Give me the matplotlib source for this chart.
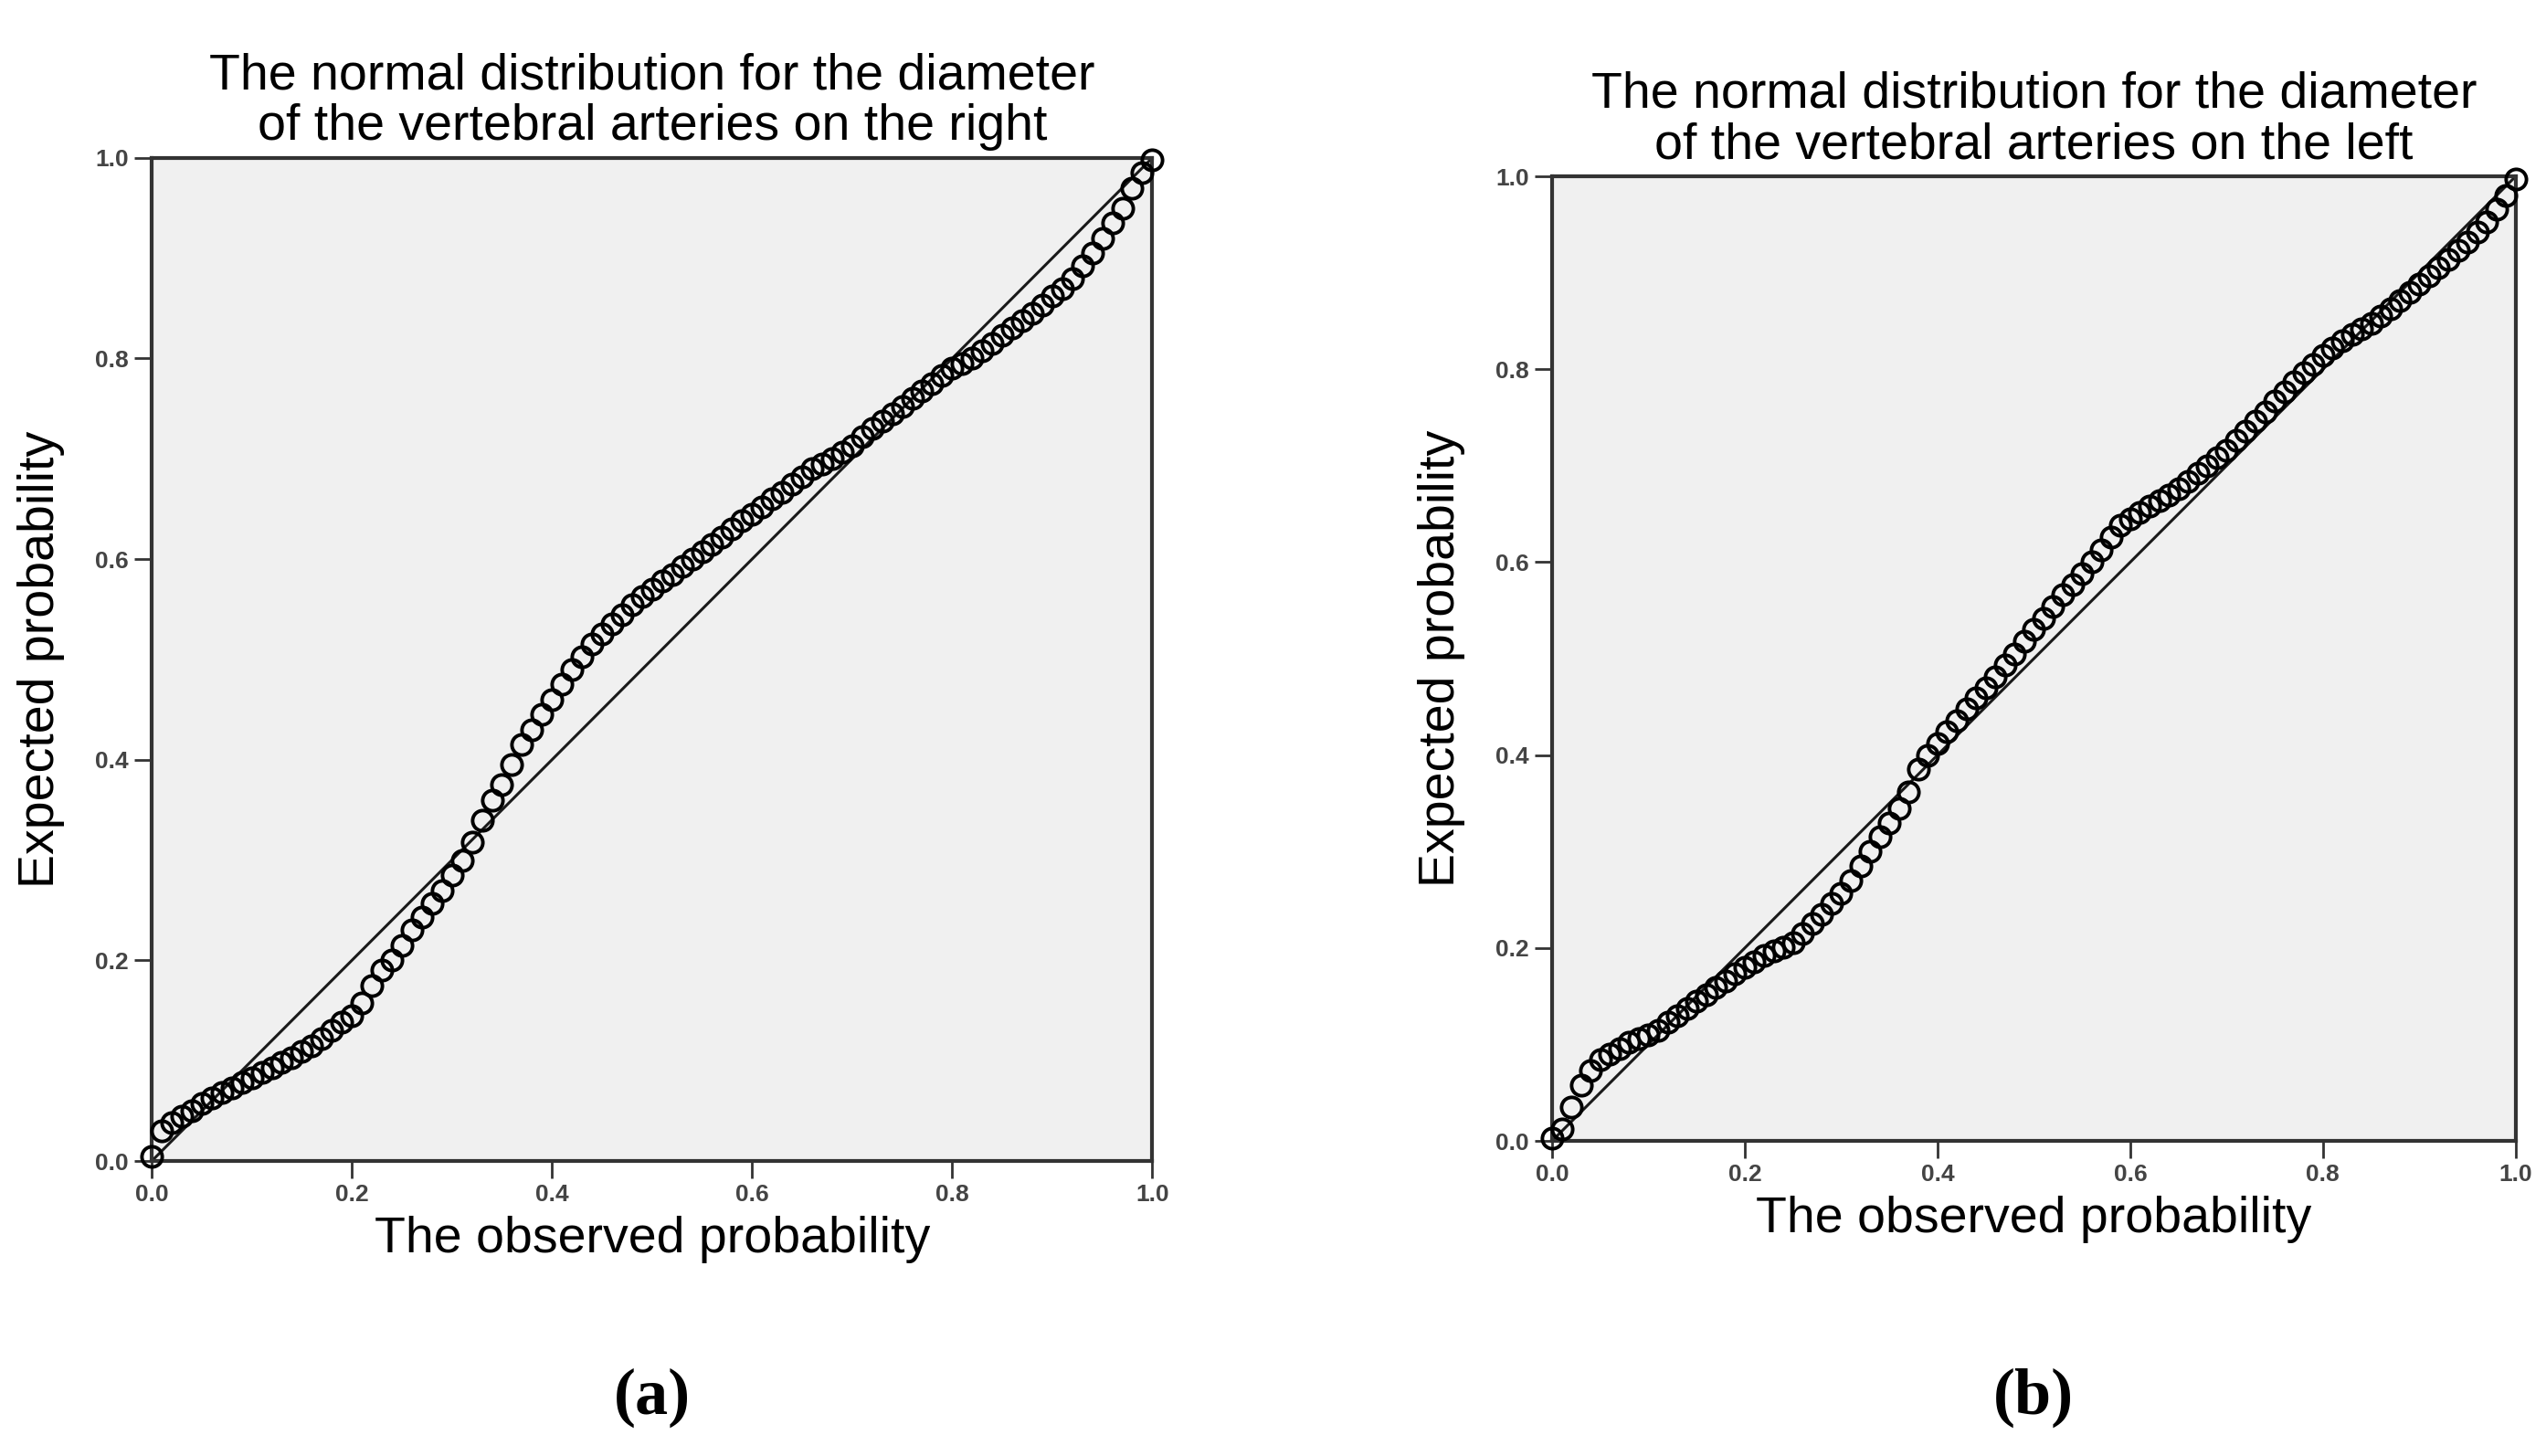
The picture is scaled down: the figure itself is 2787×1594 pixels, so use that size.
import matplotlib
matplotlib.use("Agg")
import matplotlib.pyplot as plt
import numpy as np

# P-P plot points: observed (x) vs expected (y) probability
obs_right = [0.00, 0.01, 0.02, 0.03, 0.04, 0.05, 0.06, 0.07, 0.08, 0.09, 0.10, 0.11, 0.12, 0.13,
             0.14, 0.15, 0.16, 0.17, 0.18, 0.19, 0.20, 0.21, 0.22, 0.23, 0.24, 0.25, 0.26, 0.27,
             0.28, 0.29, 0.30, 0.31, 0.32, 0.33, 0.34, 0.35, 0.36, 0.37, 0.38, 0.39, 0.40, 0.41,
             0.42, 0.43, 0.44, 0.45, 0.46, 0.47, 0.48, 0.49, 0.50, 0.51, 0.52, 0.53, 0.54, 0.55,
             0.56, 0.57, 0.58, 0.59, 0.60, 0.61, 0.62, 0.63, 0.64, 0.65, 0.66, 0.67, 0.68, 0.69,
             0.70, 0.71, 0.72, 0.73, 0.74, 0.75, 0.76, 0.77, 0.78, 0.79, 0.80, 0.81, 0.82, 0.83,
             0.84, 0.85, 0.86, 0.87, 0.88, 0.89, 0.90, 0.91, 0.92, 0.93, 0.94, 0.95, 0.96, 0.97,
             0.98, 0.99, 1.00]
exp_right = [0.005, 0.030, 0.038, 0.045, 0.050, 0.057, 0.063, 0.068, 0.073, 0.078, 0.083, 0.088,
             0.093, 0.098, 0.103, 0.109, 0.115, 0.122, 0.130, 0.138, 0.145, 0.158, 0.175, 0.190,
             0.200, 0.215, 0.230, 0.243, 0.257, 0.270, 0.285, 0.300, 0.318, 0.340, 0.360, 0.375,
             0.395, 0.415, 0.430, 0.445, 0.460, 0.475, 0.490, 0.503, 0.515, 0.525, 0.535, 0.545,
             0.555, 0.563, 0.570, 0.578, 0.585, 0.593, 0.600, 0.607, 0.615, 0.622, 0.630, 0.638,
             0.645, 0.652, 0.660, 0.667, 0.675, 0.682, 0.690, 0.695, 0.700, 0.707, 0.713, 0.722,
             0.730, 0.738, 0.745, 0.752, 0.760, 0.768, 0.775, 0.783, 0.790, 0.795, 0.800, 0.808,
             0.815, 0.823, 0.830, 0.838, 0.845, 0.853, 0.862, 0.870, 0.880, 0.892, 0.905, 0.920,
             0.935, 0.950, 0.970, 0.985, 0.998]

obs_left = obs_right
exp_left = [0.003, 0.012, 0.035, 0.058, 0.073, 0.084, 0.090, 0.096, 0.102, 0.106, 0.110, 0.115,
            0.123, 0.130, 0.137, 0.145, 0.152, 0.159, 0.166, 0.173, 0.180, 0.186, 0.192, 0.197,
            0.201, 0.206, 0.215, 0.225, 0.235, 0.246, 0.257, 0.270, 0.285, 0.300, 0.315, 0.330,
            0.345, 0.362, 0.385, 0.400, 0.412, 0.424, 0.436, 0.448, 0.459, 0.470, 0.481, 0.493,
            0.505, 0.518, 0.530, 0.542, 0.554, 0.566, 0.577, 0.588, 0.600, 0.613, 0.626, 0.638,
            0.645, 0.652, 0.658, 0.664, 0.670, 0.676, 0.684, 0.692, 0.700, 0.708, 0.716, 0.726,
            0.736, 0.746, 0.756, 0.767, 0.777, 0.787, 0.796, 0.805, 0.814, 0.822, 0.830, 0.836,
            0.842, 0.848, 0.855, 0.863, 0.871, 0.880, 0.888, 0.897, 0.905, 0.914, 0.923, 0.932,
            0.942, 0.953, 0.966, 0.980, 0.997]

ticks = [0.0, 0.2, 0.4, 0.6, 0.8, 1.0]
tick_labels = ["0.0", "0.2", "0.4", "0.6", "0.8", "1.0"]

panels = [
    dict(rect=[0.0596, 0.2026, 0.393, 0.689], x=obs_right, y=exp_right,
         title="The normal distribution for the diameter\nof the vertebral arteries on the right", tag="(a)"),
    dict(rect=[0.6096, 0.2164, 0.3785, 0.6625], x=obs_left, y=exp_left,
         title="The normal distribution for the diameter\nof the vertebral arteries on the left", tag="(b)"),
]

plt.rcParams["font.family"] = ["Liberation Sans", "DejaVu Sans"]
fig = plt.figure(figsize=(27.87, 15.94), dpi=100)

for p in panels:
    ax = fig.add_axes(p["rect"])
    ax.set_facecolor("#f0f0f0")
    ax.plot([0, 1], [0, 1], color="#1a1a1a", linewidth=2.2, zorder=2)
    ax.plot(p["x"], p["y"], linestyle="none", marker="o", markersize=16,
            markerfacecolor="none", markeredgecolor="black", markeredgewidth=2.8,
            zorder=3, clip_on=False)
    ax.set_xlim(0, 1)
    ax.set_ylim(0, 1)
    ax.set_xticks(ticks)
    ax.set_xticklabels(tick_labels, fontweight="bold")
    ax.set_yticks(ticks)
    ax.set_yticklabels(tick_labels, fontweight="bold")
    ax.tick_params(direction="out", length=14, width=2, labelsize=19, colors="#333333",
                   labelcolor="#444444", pad=4)
    for s in ax.spines.values():
        s.set_linewidth(3)
        s.set_color("#333333")
    ax.set_title(p["title"], fontsize=40, pad=14, linespacing=1.1)
    ax.set_xlabel("The observed probability", fontsize=40, labelpad=8)
    ax.set_ylabel("Expected probability", fontsize=40, labelpad=24)
    cx = p["rect"][0] + p["rect"][2] / 2
    fig.text(cx, 0.04, p["tag"], ha="center", va="center", fontsize=52,
             family="Liberation Serif", fontweight="bold")

fig.savefig("out.png", dpi=100, facecolor="white")
